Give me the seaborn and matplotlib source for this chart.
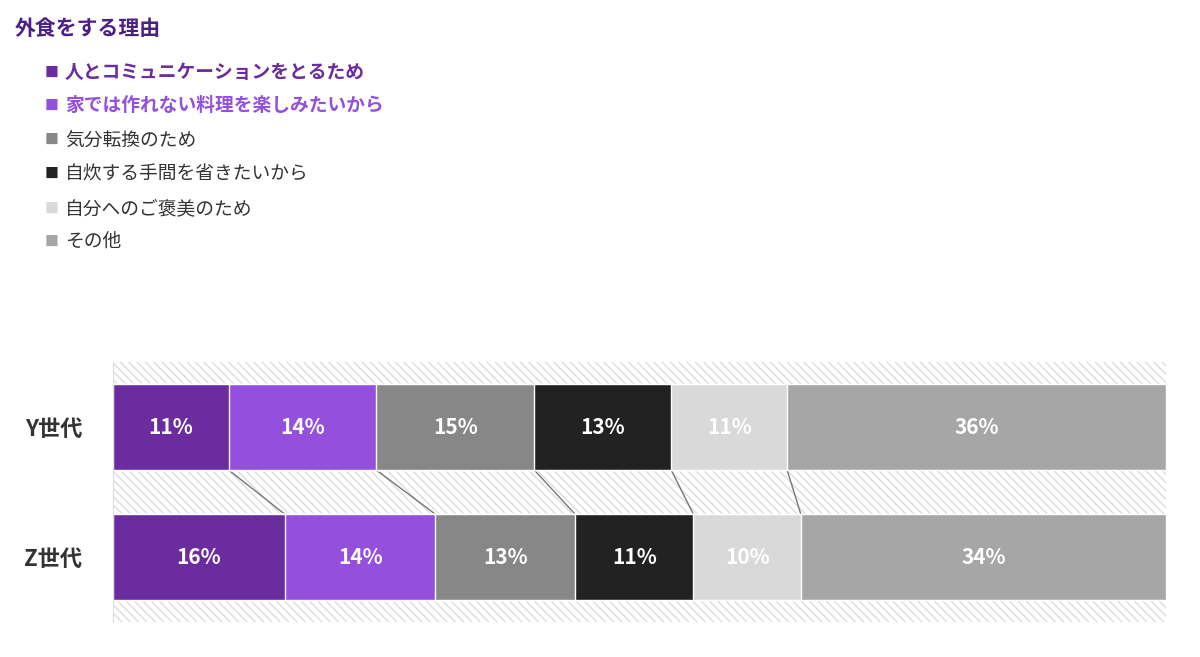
import numpy as np
import pandas as pd
import matplotlib.pyplot as plt
import seaborn as sns


generations = ["Y世代", "Z世代"]
reasons = ["人とコミュニケーションをとるため", "家では作れない料理を楽しみたいから", "気分転換のため",
           "自炊する手間を省きたいから", "自分へのご褒美のため", "その他"]
y_values = [11, 14, 15, 13, 11, 36]
z_values = [16, 14, 13, 11, 10, 34]
colors = ["#6a2c9e", "#9450dd", "#878787", "#222222", "#d9d9d9", "#a6a6a6"]
legend_colors = ["#6a2c9e", "#9450dd", "#444444", "#222222", "#444444", "#444444"]


def drawLegend(fig):
    fig.text(0.012, 0.957, "外食をする理由", fontsize=15, fontweight='bold', color="#4b1f86", va='center')
    ys = [0.889, 0.839, 0.787, 0.735, 0.682, 0.632]
    for i, (reason, y) in enumerate(zip(reasons, ys)):
        bold = i < 2
        fig.text(0.037, y, "■", fontsize=10, color=colors[i], va='center')
        fig.text(0.054, y, reason, fontsize=13.5, va='center',
                 fontweight='bold' if bold else 'normal',
                 color=colors[i] if bold else "#333333")


def graphStacked():
    sns.set_style("white")
    plt.rcParams['font.family'] = ['Noto Sans CJK JP', 'DejaVu Sans']

    data = np.array([y_values, z_values], dtype=float)
    shares = data / data.sum(axis=1, keepdims=True) * 100  # scale each row to full width
    cums = np.cumsum(shares, axis=1)

    fig = plt.figure(figsize=(12, 6.57), dpi=100)
    ax = fig.add_axes([0.094, 0.053, 0.878, 0.396])

    # hatched background
    ax.add_patch(plt.Rectangle((0, 0), 1, 1, transform=ax.transAxes, facecolor='white',
                               edgecolor='#dddddd', hatch='\\\\\\\\', linewidth=0, zorder=0))

    # stacked bars: draw largest cumulative first
    for i in range(len(reasons) - 1, -1, -1):
        df = pd.DataFrame({'Generation': generations, 'Value': cums[:, i]})
        sns.barplot(data=df, x='Value', y='Generation', orient='h', color=colors[i],
                    saturation=1, width=0.66, ax=ax, zorder=2)

    # value labels
    for r in range(2):
        for i in range(len(reasons)):
            center = cums[r, i] - shares[r, i] / 2
            ax.text(center, r, f"{int(data[r, i])}%", ha='center', va='center',
                    color='white', fontsize=15, fontweight='bold', zorder=3)

    # connector lines between segment ends
    for i in range(len(reasons) - 1):
        ax.plot([cums[0, i], cums[1, i]], [0.33, 0.67], color='#777777', linewidth=1, zorder=1)

    ax.set_xlim(0, 100)
    ax.set_ylim(1.5, -0.5)
    ax.set_xlabel('')
    ax.set_ylabel('')
    ax.set_xticks([])
    ax.tick_params(axis='y', length=0, labelsize=16, pad=22)
    for lbl in ax.get_yticklabels():
        lbl.set_fontweight('bold')
        lbl.set_color('#333333')
    for side in ['top', 'right', 'bottom']:
        ax.spines[side].set_visible(False)
    ax.spines['left'].set_color('#dddddd')

    drawLegend(fig)

    fig.savefig('out.png', dpi=100)


def main():
    graphStacked()


if __name__ == "__main__":
    main()
